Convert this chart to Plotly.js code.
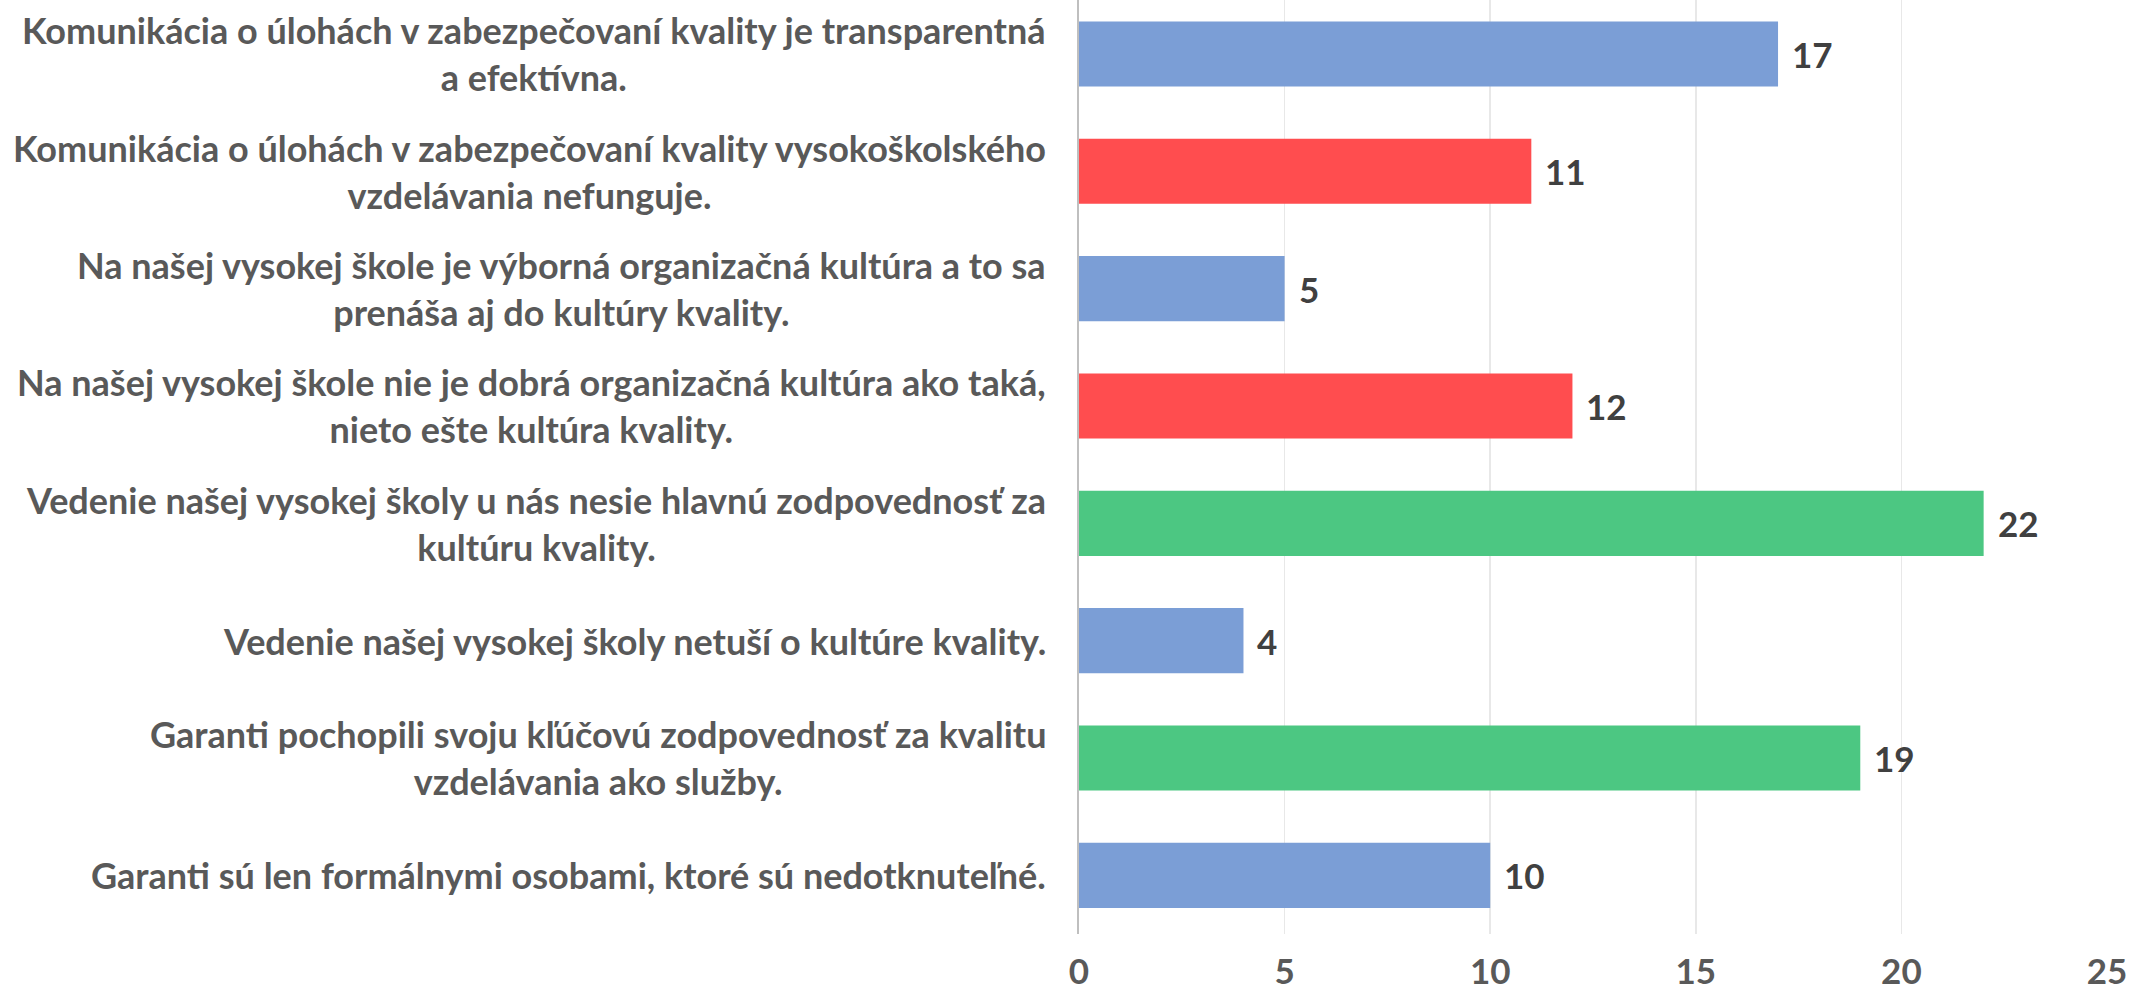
<!DOCTYPE html>
<html>
<head>
<meta charset="utf-8">
<script src="https://cdn.plot.ly/plotly-3.0.1.min.js"></script>
<style>html,body{margin:0;padding:0;background:#fff;}#chart{width:2131px;height:997px;}</style>
</head>
<body>
<div id="chart"></div>
<script>
const categories = [
  "Komunikácia o úlohách v zabezpečovaní kvality je transparentná<br>a efektívna.",
  "Komunikácia o úlohách v zabezpečovaní kvality vysokoškolského<br>vzdelávania nefunguje.",
  "Na našej vysokej škole je výborná organizačná kultúra a to sa<br>prenáša aj do kultúry kvality.",
  "Na našej vysokej škole nie je dobrá organizačná kultúra ako taká,<br>nieto ešte kultúra kvality.",
  "Vedenie našej vysokej školy u nás nesie hlavnú zodpovednosť za<br>kultúru kvality.",
  "Vedenie našej vysokej školy netuší o kultúre kvality.",
  "Garanti pochopili svoju kľúčovú zodpovednosť za kvalitu<br>vzdelávania ako služby.",
  "Garanti sú len formálnymi osobami, ktoré sú nedotknuteľné."
];
const values = [17, 11, 5, 12, 22, 4, 19, 10];
const barColors = ["#7B9ED6", "#FF4D4F", "#7B9ED6", "#FF4D4F", "#4CC782", "#7B9ED6", "#4CC782", "#7B9ED6"];
const xTicks = [0, 5, 10, 15, 20, 25];

const FONT = 'Lato, "Open Sans", sans-serif';
const ids = categories.map((c, i) => i);

const trace = {
  type: 'bar',
  orientation: 'h',
  x: values,
  y: ids,
  marker: {color: barColors, line: {width: 0}},
  width: 0.555,
  hoverinfo: 'none'
};

const labelAnnotations = categories.map((c, i) => ({
  text: c,
  xref: 'paper', yref: 'y',
  x: -0.03, y: i,
  xanchor: 'right', yanchor: 'middle',
  align: 'center',
  showarrow: false,
  font: {family: FONT, size: 36, color: '#595959', weight: 'bold'}
}));

const valueAnnotations = values.map((v, i) => ({
  text: String(v),
  xref: 'x', yref: 'y',
  x: v, y: i,
  xanchor: 'left', yanchor: 'middle',
  xshift: 12,
  showarrow: false,
  font: {family: FONT, size: 35, color: '#404040', weight: 'bold'}
}));

const layout = {
  width: 2131, height: 997,
  margin: {l: 1079, r: 24, t: 0, b: 63},
  paper_bgcolor: '#ffffff', plot_bgcolor: '#ffffff',
  showlegend: false,
  xaxis: {
    range: [0, 25],
    tickvals: xTicks,
    ticktext: xTicks.map(String),
    showgrid: true, gridcolor: '#E8E8E8', gridwidth: 1.5,
    zeroline: false, showline: false,
    ticks: '',
    ticklabelstandoff: 14,
    tickfont: {family: FONT, size: 35, color: '#595959', weight: 'bold'}
  },
  yaxis: {
    range: [7.5, -0.46],
    showticklabels: false,
    showgrid: false, zeroline: false,
    showline: true, linecolor: '#BFBFBF', linewidth: 2,
    ticks: ''
  },
  annotations: labelAnnotations.concat(valueAnnotations)
};

Plotly.newPlot('chart', [trace], layout, {displayModeBar: false, staticPlot: true});
</script>
</body>
</html>
